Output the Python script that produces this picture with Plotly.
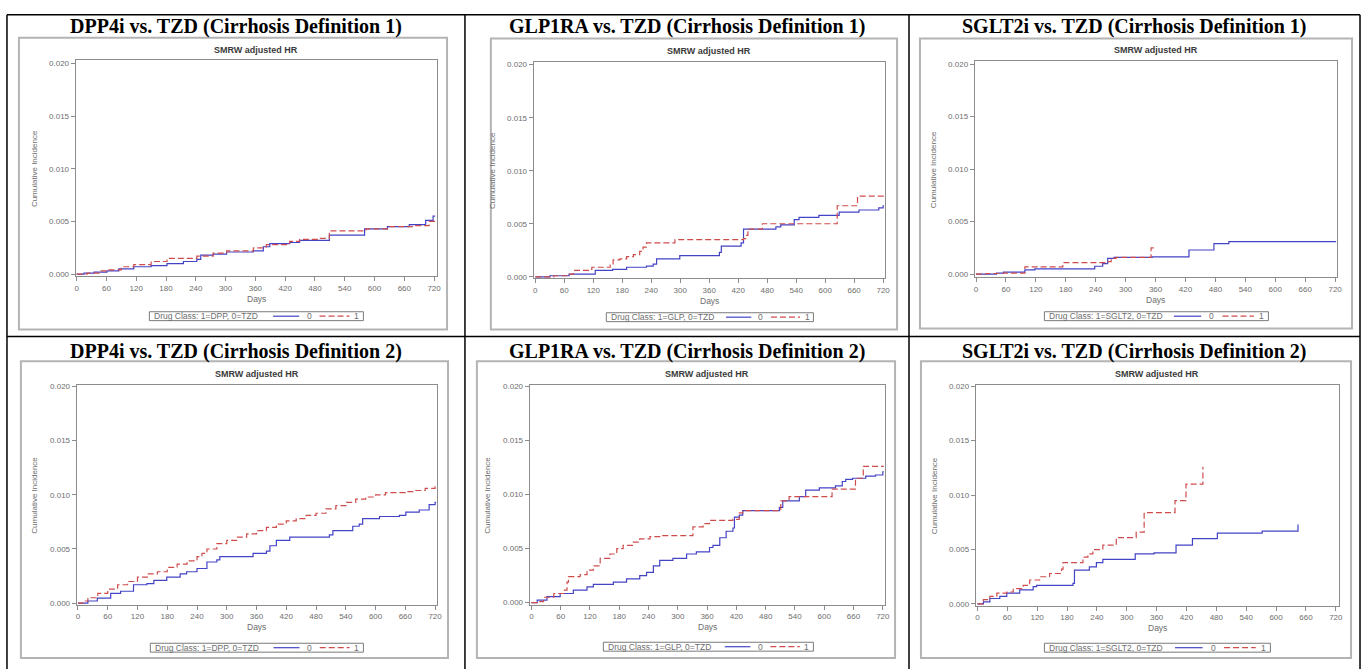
import plotly.graph_objects as go

W, H = 1368, 671

# ---------------- text / ticks ----------------
panel_titles = [
    "DPP4i vs. TZD (Cirrhosis Definition 1)",
    "GLP1RA vs. TZD (Cirrhosis Definition 1)",
    "SGLT2i vs. TZD (Cirrhosis Definition 1)",
    "DPP4i vs. TZD (Cirrhosis Definition 2)",
    "GLP1RA vs. TZD (Cirrhosis Definition 2)",
    "SGLT2i vs. TZD (Cirrhosis Definition 2)",
]
legend_titles = [
    "Drug Class: 1=DPP, 0=TZD",
    "Drug Class: 1=GLP, 0=TZD",
    "Drug Class: 1=SGLT2, 0=TZD",
    "Drug Class: 1=DPP, 0=TZD",
    "Drug Class: 1=GLP, 0=TZD",
    "Drug Class: 1=SGLT2, 0=TZD",
]
plot_title = "SMRW adjusted HR"
x_title = "Days"
y_title = "Cumulative Incidence"
group_labels = ["0", "1"]
x_tick_vals = [0, 60, 120, 180, 240, 300, 360, 420, 480, 540, 600, 660, 720]
y_tick_vals = [0.000, 0.005, 0.010, 0.015, 0.020]
y_tick_text = ["0.000", "0.005", "0.010", "0.015", "0.020"]

# ---------------- data (days, cumulative incidence) ----------------
# DPP4i vs TZD, definition 1
dpp1_tzd_days = [0, 15, 35, 61, 85, 115, 150, 182, 215, 242, 250, 275, 302, 356, 376, 389, 429, 449, 509, 580, 626, 670, 703, 718, 722]
dpp1_tzd_ci = [0, 0.0001, 0.0002, 0.0003, 0.0005, 0.0007, 0.0008, 0.0010, 0.0012, 0.0014, 0.0018, 0.0019, 0.0021, 0.0022, 0.0026, 0.0029, 0.0030, 0.0032, 0.0037, 0.0043, 0.0045, 0.0047, 0.0051, 0.0055, 0.0055]
dpp1_drug_days = [0, 21, 45, 61, 90, 115, 150, 182, 242, 275, 302, 356, 382, 429, 449, 489, 509, 583, 626, 676, 710, 722]
dpp1_drug_ci = [0, 0.0001, 0.0003, 0.0004, 0.0007, 0.0009, 0.0012, 0.0015, 0.0017, 0.0020, 0.0022, 0.0025, 0.0028, 0.0031, 0.0033, 0.0034, 0.0041, 0.0043, 0.0045, 0.0046, 0.0050, 0.0050]

# GLP1RA vs TZD, definition 1
glp1_tzd_days = [0, 30, 70, 124, 160, 189, 230, 244, 251, 299, 381, 385, 426, 431, 498, 508, 536, 546, 587, 629, 670, 711, 720, 722]
glp1_tzd_ci = [0, 0.0001, 0.00025, 0.0006, 0.0007, 0.0009, 0.0010, 0.0012, 0.0017, 0.0020, 0.0023, 0.0029, 0.0032, 0.0045, 0.0047, 0.0049, 0.0054, 0.0056, 0.0058, 0.0061, 0.0063, 0.0065, 0.0067, 0.0067]
glp1_drug_days = [0, 38, 65, 79, 113, 117, 155, 161, 175, 189, 203, 216, 223, 230, 289, 431, 436, 440, 470, 625, 667, 722]
glp1_drug_ci = [0, 0.0001, 0.00025, 0.0006, 0.0007, 0.0009, 0.0011, 0.0016, 0.0017, 0.0019, 0.0021, 0.0024, 0.0028, 0.0032, 0.0035, 0.0036, 0.0039, 0.0045, 0.0050, 0.0067, 0.0076, 0.0076]

# SGLT2i vs TZD, definition 1
sglt1_tzd_days = [0, 41, 55, 98, 118, 238, 254, 264, 277, 353, 427, 477, 507, 722]
sglt1_tzd_ci = [0, 0.0001, 0.0002, 0.0004, 0.0005, 0.00075, 0.0010, 0.0015, 0.0016, 0.00165, 0.0023, 0.0029, 0.0031, 0.0031]
sglt1_drug_days = [0, 20, 55, 98, 174, 261, 271, 281, 351, 357]
sglt1_drug_ci = [0, 0.00006, 0.0001, 0.0007, 0.0011, 0.0012, 0.0015, 0.0016, 0.0025, 0.0025]

# DPP4i vs TZD, definition 2
dpp2_tzd_days = [0, 20, 39, 66, 86, 112, 139, 153, 179, 206, 219, 240, 260, 280, 286, 353, 380, 387, 400, 427, 507, 514, 554, 567, 574, 608, 648, 661, 688, 708, 720, 722]
dpp2_tzd_ci = [0, 0.0002, 0.00046, 0.0009, 0.0011, 0.0017, 0.0018, 0.0021, 0.0024, 0.0027, 0.0029, 0.0032, 0.0038, 0.0040, 0.0043, 0.0046, 0.0048, 0.0053, 0.0058, 0.0061, 0.0063, 0.0067, 0.0071, 0.0073, 0.0078, 0.0080, 0.0081, 0.0084, 0.0086, 0.0091, 0.0093, 0.0093]
dpp2_drug_days = [0, 10, 20, 40, 60, 80, 100, 120, 140, 160, 180, 200, 220, 240, 250, 260, 280, 300, 320, 340, 360, 380, 400, 420, 440, 460, 480, 500, 520, 540, 560, 580, 600, 620, 640, 660, 680, 700, 720, 722]
dpp2_drug_ci = [0, 0.0002, 0.0005, 0.0009, 0.0013, 0.0017, 0.0020, 0.0024, 0.0027, 0.0029, 0.0033, 0.0036, 0.0039, 0.0043, 0.0046, 0.0050, 0.0055, 0.0058, 0.0061, 0.0064, 0.0067, 0.0070, 0.0073, 0.0076, 0.0078, 0.0081, 0.0083, 0.0087, 0.0090, 0.0093, 0.0096, 0.0098, 0.0100, 0.0102, 0.0102, 0.0103, 0.0104, 0.0106, 0.0108, 0.0108]

# GLP1RA vs TZD, definition 2
glp2_tzd_days = [0, 12, 32, 59, 86, 114, 127, 168, 195, 222, 236, 250, 263, 290, 318, 338, 365, 372, 386, 399, 413, 416, 426, 433, 508, 515, 549, 562, 590, 623, 637, 644, 658, 685, 705, 720, 722]
glp2_tzd_ci = [0, 0.00024, 0.00055, 0.00085, 0.00116, 0.00146, 0.0017, 0.0019, 0.0022, 0.0025, 0.0028, 0.0034, 0.0039, 0.0041, 0.0045, 0.0047, 0.0051, 0.0053, 0.0060, 0.0066, 0.0069, 0.0079, 0.0081, 0.0085, 0.0088, 0.0094, 0.0098, 0.0104, 0.0106, 0.0108, 0.0112, 0.0114, 0.0115, 0.0117, 0.0118, 0.0121, 0.0121]
glp2_drug_days = [0, 12, 25, 46, 66, 73, 76, 100, 114, 127, 141, 161, 175, 188, 209, 222, 243, 263, 331, 352, 365, 413, 426, 433, 508, 511, 528, 616, 664, 680, 722]
glp2_drug_ci = [0, 0.0001, 0.0005, 0.00085, 0.00116, 0.0019, 0.0024, 0.0026, 0.0030, 0.0034, 0.0041, 0.0045, 0.0050, 0.0053, 0.0056, 0.0059, 0.0061, 0.0062, 0.0070, 0.0073, 0.0076, 0.0077, 0.0083, 0.0085, 0.0086, 0.0094, 0.0098, 0.0105, 0.0115, 0.0126, 0.0126]

# SGLT2i vs TZD, definition 2
sglt2_tzd_days = [0, 12, 25, 45, 59, 85, 112, 119, 192, 195, 225, 239, 252, 317, 355, 399, 432, 482, 572, 644]
sglt2_tzd_ci = [0, 0.0002, 0.0005, 0.0007, 0.0010, 0.0013, 0.0016, 0.0017, 0.0019, 0.0031, 0.0034, 0.0038, 0.0041, 0.0046, 0.0047, 0.0054, 0.0060, 0.0065, 0.0067, 0.0073]
sglt2_drug_days = [0, 12, 25, 39, 59, 72, 92, 105, 125, 145, 169, 172, 212, 222, 232, 252, 279, 319, 335, 397, 419, 453]
sglt2_drug_ci = [0, 0.0004, 0.0007, 0.0010, 0.0011, 0.0014, 0.0017, 0.0022, 0.0025, 0.0028, 0.0032, 0.0038, 0.0043, 0.0046, 0.0050, 0.0054, 0.0061, 0.0066, 0.0084, 0.0095, 0.0110, 0.0126]

series = [
    (dpp1_tzd_days, dpp1_tzd_ci, dpp1_drug_days, dpp1_drug_ci),
    (glp1_tzd_days, glp1_tzd_ci, glp1_drug_days, glp1_drug_ci),
    (sglt1_tzd_days, sglt1_tzd_ci, sglt1_drug_days, sglt1_drug_ci),
    (dpp2_tzd_days, dpp2_tzd_ci, dpp2_drug_days, dpp2_drug_ci),
    (glp2_tzd_days, glp2_tzd_ci, glp2_drug_days, glp2_drug_ci),
    (sglt2_tzd_days, sglt2_tzd_ci, sglt2_drug_days, sglt2_drug_ci),
]

# ---------------- layout geometry (pixels) ----------------
GEOM = [
    dict(img=(18, 35, 448, 330), frame=(75, 58, 438, 276), x0=76, x720=435, y0=274, y20=61, leg=(149, 312, 364, 321)),
    dict(img=(492, 36, 900, 330), frame=(535, 60, 888, 278), x0=536.7, x720=886, y0=276.7, y20=62.3, leg=(608, 313, 816, 322)),
    dict(img=(923, 36, 1357, 329), frame=(978, 59, 1342, 277), x0=979.3, x720=1340, y0=274, y20=61.7, leg=(1048, 312, 1273, 321)),
    dict(img=(20, 362, 449, 662), frame=(76, 386, 438, 608), x0=77.3, x720=436, y0=606.5, y20=387.5, leg=(150, 647, 364, 656)),
    dict(img=(478, 362, 898, 662), frame=(531, 386, 888, 608), x0=532.7, x720=885.7, y0=606, y20=387.3, leg=(605, 646, 816, 655)),
    dict(img=(924, 362, 1356, 662), frame=(979, 386, 1344, 609), x0=980.7, x720=1340.7, y0=607.3, y20=387.3, leg=(1048, 647, 1275, 656)),
]
COL_CENTERS = [236, 689, 1138.5]
ROW_TITLE_Y = [24, 352]

BLUE = "#4343c6"
RED = "#cf4c4c"
AXIS = "#8c8c8c"
TEXT = "#6e6e6e"
SANS = "Liberation Sans, Arial, sans-serif"
SERIF = "Liberation Serif, Times New Roman, serif"


def px(x):
    return x / W


def py(y):
    return 1 - y / H


fig = go.Figure()
shapes = []
annotations = []

# table grid
LINE = dict(color="black", width=1.5)
for xv in [6, 466, 912, 1365]:
    shapes.append(dict(type="line", xref="paper", yref="paper", x0=px(xv), x1=px(xv), y0=py(12), y1=py(H + 2), line=LINE, layer="above"))
for yv in [12, 337]:
    shapes.append(dict(type="line", xref="paper", yref="paper", x0=px(6), x1=px(1365), y0=py(yv), y1=py(yv), line=LINE, layer="above"))

for i, g in enumerate(GEOM):
    k = i + 1
    xa = "x" if k == 1 else f"x{k}"
    ya = "y" if k == 1 else f"y{k}"
    L, T, R, B = g["frame"]
    sx = (g["x720"] - g["x0"]) / 720.0
    sy = (g["y0"] - g["y20"]) / 0.02
    xr = [(L - g["x0"]) / sx, (R - g["x0"]) / sx]
    yr = [(g["y0"] - B) / sy, (g["y0"] - T) / sy]

    d0, c0, d1, c1 = series[i]
    fig.add_trace(go.Scatter(x=d0, y=c0, mode="lines", line=dict(color=BLUE, width=1.2, shape="hv"),
                             xaxis=xa, yaxis=ya, showlegend=False, name=group_labels[0]))
    fig.add_trace(go.Scatter(x=d1, y=c1, mode="lines", line=dict(color=RED, width=1.2, shape="hv", dash="6px,3px"),
                             xaxis=xa, yaxis=ya, showlegend=False, name=group_labels[1]))

    axname_x = "xaxis" if k == 1 else f"xaxis{k}"
    axname_y = "yaxis" if k == 1 else f"yaxis{k}"
    common = dict(showline=True, mirror=True, linecolor=AXIS, linewidth=1, ticks="outside", ticklen=4,
                  tickcolor=AXIS, tickwidth=1, showgrid=False, zeroline=False,
                  tickfont=dict(family=SANS, size=8, color=TEXT), fixedrange=True)
    fig.update_layout(**{
        axname_x: dict(domain=[px(L), px(R)], range=xr, anchor=ya, tickvals=x_tick_vals,
                       ticktext=[str(v) for v in x_tick_vals], **common),
        axname_y: dict(domain=[py(B), py(T)], range=yr, anchor=xa, tickvals=y_tick_vals,
                       ticktext=y_tick_text, **common),
    })

    # image border (SAS graph frame)
    iL, iT, iR, iB = g["img"]
    shapes.append(dict(type="rect", xref="paper", yref="paper", x0=px(iL), x1=px(iR), y0=py(iB), y1=py(iT),
                       line=dict(color="#b4b4b4", width=2), layer="below"))

    cx = (L + R) / 2
    # table cell title
    annotations.append(dict(xref="paper", yref="paper", x=px(COL_CENTERS[i % 3]), y=py(ROW_TITLE_Y[i // 3]),
                            text=f"<b>{panel_titles[i]}</b>", showarrow=False, xanchor="center", yanchor="middle",
                            font=dict(family=SERIF, size=20, color="black")))
    # graph title
    annotations.append(dict(xref="paper", yref="paper", x=px(cx), y=py(T - 11), text=f"<b>{plot_title}</b>",
                            showarrow=False, xanchor="center", yanchor="middle",
                            font=dict(family=SANS, size=9, color="#3a3a3a")))
    # x title
    annotations.append(dict(xref="paper", yref="paper", x=px(cx), y=py(B + 23), text=x_title, showarrow=False,
                            xanchor="center", yanchor="middle", font=dict(family=SANS, size=8.5, color=TEXT)))
    # y title
    annotations.append(dict(xref="paper", yref="paper", x=px(L - 42), y=py((T + B) / 2), text=y_title,
                            showarrow=False, textangle=-90, xanchor="center", yanchor="middle",
                            font=dict(family=SANS, size=8, color=TEXT)))
    # legend box
    lL, lT, lR, lB = g["leg"]
    lw = lR - lL
    lm = (lT + lB) / 2
    shapes.append(dict(type="rect", xref="paper", yref="paper", x0=px(lL), x1=px(lR), y0=py(lB), y1=py(lT),
                       line=dict(color="#7a7a7a", width=1), fillcolor="white", layer="above"))
    annotations.append(dict(xref="paper", yref="paper", x=px(lL + 3), y=py(lm), text=legend_titles[i],
                            showarrow=False, xanchor="left", yanchor="middle",
                            font=dict(family=SANS, size=8.5, color=TEXT)))
    shapes.append(dict(type="line", xref="paper", yref="paper", x0=px(lL + 0.578 * lw), x1=px(lL + 0.70 * lw),
                       y0=py(lm), y1=py(lm), line=dict(color=BLUE, width=1.2), layer="above"))
    annotations.append(dict(xref="paper", yref="paper", x=px(lL + 0.746 * lw), y=py(lm), text=group_labels[0],
                            showarrow=False, xanchor="center", yanchor="middle",
                            font=dict(family=SANS, size=8.5, color=TEXT)))
    shapes.append(dict(type="line", xref="paper", yref="paper", x0=px(lL + 0.795 * lw), x1=px(lL + 0.935 * lw),
                       y0=py(lm), y1=py(lm), line=dict(color=RED, width=1.2, dash="6px,3px"), layer="above"))
    annotations.append(dict(xref="paper", yref="paper", x=px(lL + 0.969 * lw), y=py(lm), text=group_labels[1],
                            showarrow=False, xanchor="center", yanchor="middle",
                            font=dict(family=SANS, size=8.5, color=TEXT)))

fig.update_layout(
    width=W, height=H, margin=dict(l=0, r=0, t=0, b=0),
    paper_bgcolor="white", plot_bgcolor="white",
    shapes=shapes, annotations=annotations, showlegend=False,
)
fig.write_html("out.html", config={"displayModeBar": False})
